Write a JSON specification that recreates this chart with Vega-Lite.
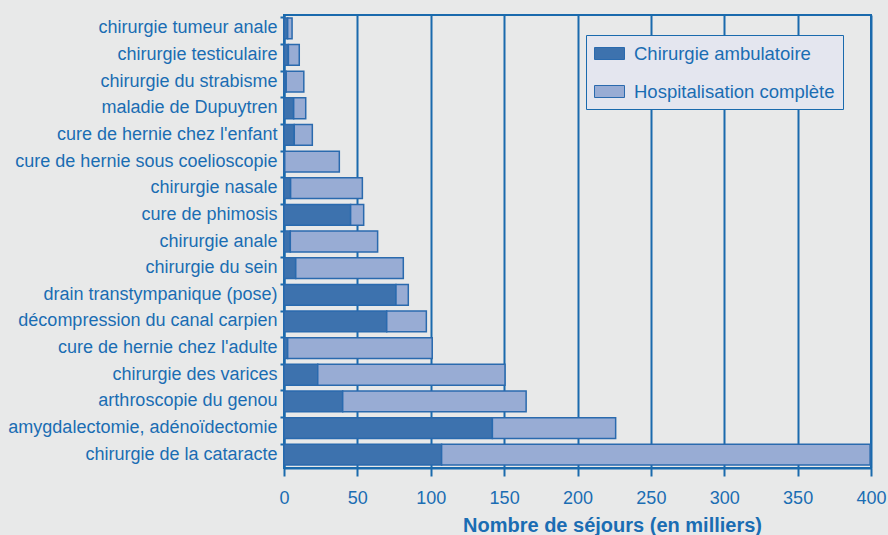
{
  "$schema": "https://vega.github.io/schema/vega-lite/v6.json",
  "width": 587,
  "height": 453,
  "autosize": {"type": "none"},
  "padding": {"left": 284, "top": 15, "right": 17, "bottom": 67},
  "background": "#e8e9e9",
  "config": {
    "font": "Liberation Sans",
    "view": {"stroke": "#1a6aad", "strokeWidth": 2}
  },
  "data": {
    "values": [
      {"categorie": "chirurgie tumeur anale", "type": "Chirurgie ambulatoire", "ordre": 1, "valeur": 2.5},
      {"categorie": "chirurgie tumeur anale", "type": "Hospitalisation complète", "ordre": 2, "valeur": 3},
      {"categorie": "chirurgie testiculaire", "type": "Chirurgie ambulatoire", "ordre": 1, "valeur": 3},
      {"categorie": "chirurgie testiculaire", "type": "Hospitalisation complète", "ordre": 2, "valeur": 7.4},
      {"categorie": "chirurgie du strabisme", "type": "Chirurgie ambulatoire", "ordre": 1, "valeur": 1.5},
      {"categorie": "chirurgie du strabisme", "type": "Hospitalisation complète", "ordre": 2, "valeur": 12},
      {"categorie": "maladie de Dupuytren", "type": "Chirurgie ambulatoire", "ordre": 1, "valeur": 6.6},
      {"categorie": "maladie de Dupuytren", "type": "Hospitalisation complète", "ordre": 2, "valeur": 8.2},
      {"categorie": "cure de hernie chez l'enfant", "type": "Chirurgie ambulatoire", "ordre": 1, "valeur": 7},
      {"categorie": "cure de hernie chez l'enfant", "type": "Hospitalisation complète", "ordre": 2, "valeur": 12.3},
      {"categorie": "cure de hernie sous coelioscopie", "type": "Chirurgie ambulatoire", "ordre": 1, "valeur": 0.5},
      {"categorie": "cure de hernie sous coelioscopie", "type": "Hospitalisation complète", "ordre": 2, "valeur": 37.2},
      {"categorie": "chirurgie nasale", "type": "Chirurgie ambulatoire", "ordre": 1, "valeur": 4.5},
      {"categorie": "chirurgie nasale", "type": "Hospitalisation complète", "ordre": 2, "valeur": 48.9},
      {"categorie": "cure de phimosis", "type": "Chirurgie ambulatoire", "ordre": 1, "valeur": 45.4},
      {"categorie": "cure de phimosis", "type": "Hospitalisation complète", "ordre": 2, "valeur": 8.9},
      {"categorie": "chirurgie anale", "type": "Chirurgie ambulatoire", "ordre": 1, "valeur": 4.3},
      {"categorie": "chirurgie anale", "type": "Hospitalisation complète", "ordre": 2, "valeur": 59.5},
      {"categorie": "chirurgie du sein", "type": "Chirurgie ambulatoire", "ordre": 1, "valeur": 8},
      {"categorie": "chirurgie du sein", "type": "Hospitalisation complète", "ordre": 2, "valeur": 73.3},
      {"categorie": "drain transtympanique (pose)", "type": "Chirurgie ambulatoire", "ordre": 1, "valeur": 76.3},
      {"categorie": "drain transtympanique (pose)", "type": "Hospitalisation complète", "ordre": 2, "valeur": 8.4},
      {"categorie": "décompression du canal carpien", "type": "Chirurgie ambulatoire", "ordre": 1, "valeur": 70},
      {"categorie": "décompression du canal carpien", "type": "Hospitalisation complète", "ordre": 2, "valeur": 27},
      {"categorie": "cure de hernie chez l'adulte", "type": "Chirurgie ambulatoire", "ordre": 1, "valeur": 2.5},
      {"categorie": "cure de hernie chez l'adulte", "type": "Hospitalisation complète", "ordre": 2, "valeur": 98.5},
      {"categorie": "chirurgie des varices", "type": "Chirurgie ambulatoire", "ordre": 1, "valeur": 23},
      {"categorie": "chirurgie des varices", "type": "Hospitalisation complète", "ordre": 2, "valeur": 127.6},
      {"categorie": "arthroscopie du genou", "type": "Chirurgie ambulatoire", "ordre": 1, "valeur": 40},
      {"categorie": "arthroscopie du genou", "type": "Hospitalisation complète", "ordre": 2, "valeur": 125},
      {"categorie": "amygdalectomie, adénoïdectomie", "type": "Chirurgie ambulatoire", "ordre": 1, "valeur": 142},
      {"categorie": "amygdalectomie, adénoïdectomie", "type": "Hospitalisation complète", "ordre": 2, "valeur": 84},
      {"categorie": "chirurgie de la cataracte", "type": "Chirurgie ambulatoire", "ordre": 1, "valeur": 107.4},
      {"categorie": "chirurgie de la cataracte", "type": "Hospitalisation complète", "ordre": 2, "valeur": 292}
    ]
  },
  "mark": {"type": "bar", "stroke": "#2a6aae", "strokeWidth": 1.5},
  "encoding": {
    "y": {
      "field": "categorie",
      "type": "nominal",
      "sort": null,
      "scale": {"paddingInner": 0.22, "paddingOuter": 0.11},
      "axis": {
        "title": null,
        "bandPosition": 0,
        "domainColor": "#1a6aad",
        "domainWidth": 2,
        "tickColor": "#1a6aad",
        "tickWidth": 2,
        "tickSize": 4,
        "labelColor": "#1a6db3",
        "labelFontSize": 18,
        "labelPadding": 3,
        "labelLimit": 400
      }
    },
    "x": {
      "field": "valeur",
      "type": "quantitative",
      "stack": "zero",
      "scale": {"domain": [0, 400], "nice": false},
      "axis": {
        "title": "Nombre de séjours (en milliers)",
        "titleColor": "#1a6db3",
        "titleFontSize": 20,
        "titleFontWeight": "bold",
        "titlePadding": 8,
        "titleX": 328,
        "titleAlign": "center",
        "values": [0, 50, 100, 150, 200, 250, 300, 350, 400],
        "grid": true,
        "gridColor": "#1a6aad",
        "gridWidth": 2,
        "gridOpacity": 1,
        "domainColor": "#1a6aad",
        "domainWidth": 2,
        "tickColor": "#1a6aad",
        "tickWidth": 2,
        "tickSize": 8,
        "labelColor": "#1a6db3",
        "labelFontSize": 18,
        "labelPadding": 13,
        "labelFlush": false,
        "labelOverlap": false
      }
    },
    "color": {
      "field": "type",
      "type": "nominal",
      "scale": {
        "domain": ["Chirurgie ambulatoire", "Hospitalisation complète"],
        "range": ["#3d72ae", "#98acd4"]
      },
      "legend": {
        "title": null,
        "orient": "none",
        "legendX": 302,
        "legendY": 20,
        "fillColor": "#e4e6ef",
        "strokeColor": "#1a6aad",
        "padding": 8,
        "rowPadding": 18,
        "labelColor": "#1a6db3",
        "labelFontSize": 18.5,
        "labelOffset": 14,
        "labelLimit": 400,
        "labelExpr": "datum.label + '\u00a0\u00a0'",
        "symbolOffset": 5,
        "symbolType": "M-1.5,-0.6L1.5,-0.6L1.5,0.6L-1.5,0.6Z",
        "symbolSize": 400,
        "symbolStrokeColor": "#2a6aae",
        "symbolStrokeWidth": 1
      }
    },
    "order": {"field": "ordre", "type": "quantitative"}
  }
}
